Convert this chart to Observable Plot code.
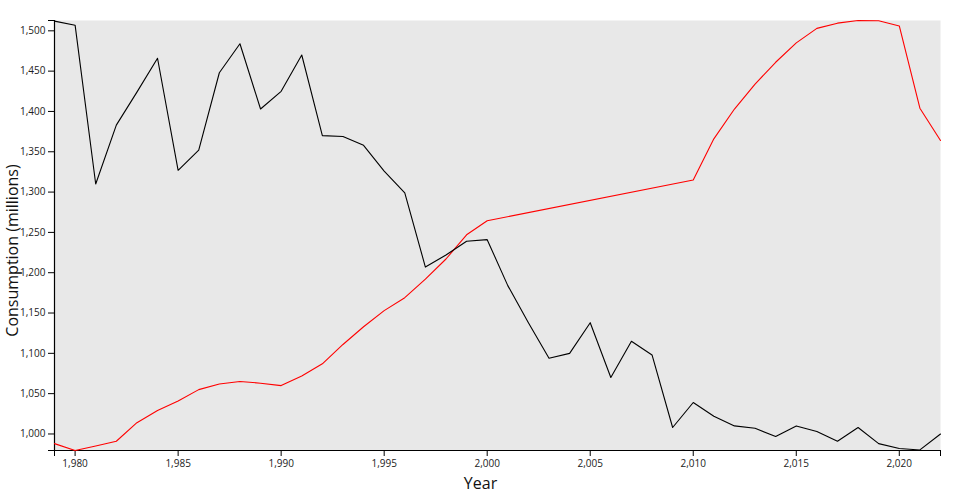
<!DOCTYPE html>
<html>
<head>
<meta charset="utf-8">
<script src="https://cdn.jsdelivr.net/npm/d3@7"></script>
<script src="https://cdn.jsdelivr.net/npm/@observablehq/plot@0.6"></script>
<style>
  html, body { margin: 0; padding: 0; background: #fff; }
</style>
</head>
<body>
<div id="chart"></div>
<script>
const years = [1979,1980,1981,1982,1983,1984,1985,1986,1987,1988,1989,1990,1991,1992,1993,1994,1995,1996,1997,1998,1999,2000,2001,2002,2003,2004,2005,2006,2007,2008,2009,2010,2011,2012,2013,2014,2015,2016,2017,2018,2019,2020,2021,2022];
const blackSeries = [1512,1507,1310,1383,1424,1466,1327,1352,1448,1484,1403,1425,1470,1370,1369,1358,1326,1299,1207,1222,1239,1241,1184,1138,1094,1100,1138,1070,1115,1098,1008,1039,1022,1010,1007,997,1010,1003,991,1008,988,982,980.2,1000];
const redSeries = [988,979.5,985,991,1014,1029,1041,1055,1062,1065,1063,1060,1072,1087,1111,1133,1153,1169,1192,1217,1247,1264.5,null,null,null,null,null,null,null,null,null,1315,1366,1403,1434,1461,1485,1503,1509.5,1512.8,1512.4,1506,1404,1364];
const yTicks = [1000,1050,1100,1150,1200,1250,1300,1350,1400,1450,1500];
const xTicks = [1980,1985,1990,1995,2000,2005,2010,2015,2020];

const blackData = years.map((year, i) => ({year, value: blackSeries[i]}));
const redData = years.map((year, i) => ({year, value: redSeries[i]})).filter(d => d.value != null);

const allValues = blackSeries.concat(redSeries).filter(v => v != null);
const yExtent = d3.extent(allValues);
const xExtent = d3.extent(years);
const fmt = d3.format(",");

const chart = Plot.plot({
  width: 960,
  height: 500,
  marginLeft: 54,
  marginRight: 20,
  marginTop: 20,
  marginBottom: 50,
  style: {fontFamily: "'Open Sans', 'Noto Sans', sans-serif", fontSize: "10px", background: "#fff"},
  x: {domain: xExtent, label: null},
  y: {domain: yExtent, label: null},
  marks: [
    Plot.frame({fill: "#e8e8e8", stroke: null}),
    Plot.axisY({ticks: yTicks, tickFormat: fmt, tickSize: 6, tickPadding: 3, label: null, fill: "#222", stroke: "#000"}),
    Plot.axisY({ticks: yExtent, tickFormat: () => "", tickSize: 6, label: null, stroke: "#000"}),
    Plot.axisX({ticks: xTicks, tickFormat: fmt, tickSize: 6, tickPadding: 3, label: null, fill: "#222", stroke: "#000"}),
    Plot.axisX({ticks: xExtent, tickFormat: () => "", tickSize: 6, label: null, stroke: "#000"}),
    Plot.ruleX([xExtent[0]], {stroke: "#000", strokeWidth: 1.2}),
    Plot.ruleY([yExtent[0]], {stroke: "#000", strokeWidth: 1.2}),
    Plot.line(redData, {x: "year", y: "value", stroke: "red", strokeWidth: 1.1}),
    Plot.line(blackData, {x: "year", y: "value", stroke: "#000", strokeWidth: 1.1}),
    Plot.text(["Consumption (millions)"], {frameAnchor: "left", textAnchor: "middle", rotate: -90, dx: -37, dy: 15, lineAnchor: "bottom", fontSize: 16, fill: "#111"}),
    Plot.text(["Year"], {frameAnchor: "bottom", textAnchor: "middle", dx: -17, dy: 38, lineAnchor: "bottom", fontSize: 16, fill: "#111"})
  ]
});
document.getElementById("chart").appendChild(chart);
</script>
</body>
</html>
